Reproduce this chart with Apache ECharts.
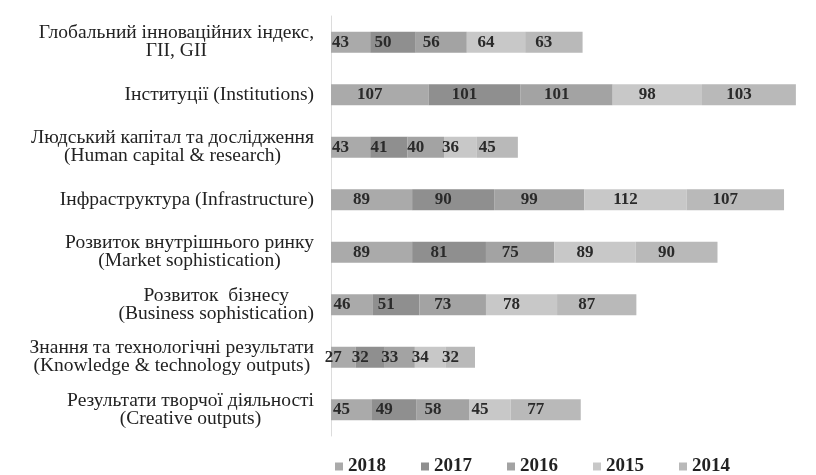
<!DOCTYPE html>
<html>
<head>
<meta charset="utf-8">
<script src="https://cdn.jsdelivr.net/npm/echarts@6/dist/echarts.min.js"></script>
<style>
  html, body { margin: 0; padding: 0; background: #fff; }
  #chart { width: 816px; height: 475px; }
</style>
</head>
<body>
<div id="chart"></div>
<script>
// категорії (зверху вниз)
const categories = [
  "Глобальний інноваційних індекс,\nГІІ, GII",
  "Інституції (Institutions)",
  "Людський капітал та дослідження\n(Human capital & research)",
  "Інфраструктура (Infrastructure)",
  "Розвиток внутрішнього ринку\n(Market sophistication)",
  "Розвиток  бізнесу\n(Business sophistication)",
  "Знання та технологічні результати\n(Knowledge & technology outputs)",
  "Результати творчої діяльності\n(Creative outputs)"
];

const years = ["2018", "2017", "2016", "2015", "2014"];

const v2018 = [43, 107, 43, 89, 89, 46, 27, 45];
const v2017 = [50, 101, 41, 90, 81, 51, 32, 49];
const v2016 = [56, 101, 40, 99, 75, 73, 33, 58];
const v2015 = [64, 98, 36, 112, 89, 78, 34, 45];
const v2014 = [63, 103, 45, 107, 90, 87, 32, 77];

const colors = ["#aaaaaa", "#8f8f8f", "#a3a3a3", "#c8c8c8", "#b9b9b9"];

const seriesValues = [v2018, v2017, v2016, v2015, v2014];

const chart = echarts.init(document.getElementById("chart"));

const serif = "'Liberation Serif', 'DejaVu Serif', serif";

const option = {
  backgroundColor: "#fff",
  animation: false,
  grid: { left: 331, top: 16, width: 474, height: 420 },
  legend: {
    data: years,
    left: 330,
    top: 452,
    icon: "rect",
    itemWidth: 8,
    itemHeight: 8,
    itemGap: 35,
    textStyle: { fontFamily: serif, fontWeight: "bold", fontSize: 19, color: "#222" }
  },
  xAxis: {
    type: "value",
    min: 0,
    max: 520,
    show: false
  },
  yAxis: {
    type: "category",
    inverse: true,
    data: categories,
    axisLine: { show: true, lineStyle: { color: "#dcdcdc" } },
    axisTick: { show: false },
    axisLabel: {
      margin: 17,
      align: "right",
      fontFamily: serif,
      fontSize: 19.5,
      lineHeight: 18,
      color: "#222",
      formatter: function (value) {
        return value.split("\n").map(function (l) { return "{c|" + l + "}"; }).join("\n");
      },
      rich: {
        c: { align: "center", fontFamily: serif, fontSize: 19.5, lineHeight: 18, color: "#222" }
      }
    }
  },
  series: years.map(function (y, i) {
    return {
      name: y,
      type: "bar",
      stack: "total",
      barWidth: 21,
      data: seriesValues[i],
      itemStyle: { color: colors[i] },
      label: {
        show: true,
        position: "inside",
        offset: [-10, 0],
        fontFamily: serif,
        fontWeight: "bold",
        fontSize: 17,
        color: "#2a2a2a"
      }
    };
  })
};

chart.setOption(option);
</script>
</body>
</html>
